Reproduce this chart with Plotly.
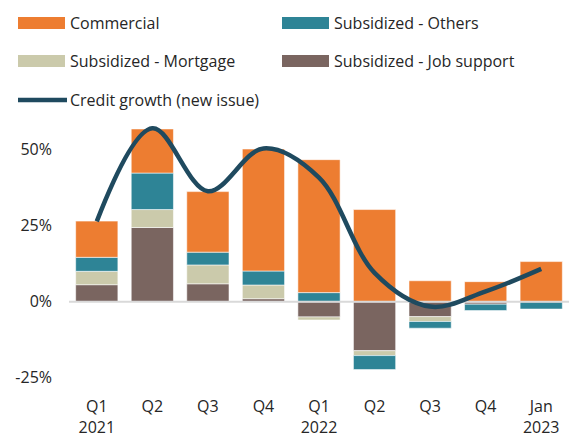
import plotly.graph_objects as go

categories = ["Q1<br>2021", "Q2", "Q3", "Q4", "Q1<br>2022", "Q2", "Q3", "Q4", "Jan<br>2023"]
job_support = [5.6, 24.4, 5.9, 1.0, -5.0, -16.1, -4.9, -0.8, 0.0]
mortgage = [4.4, 5.9, 6.2, 4.5, -1.0, -1.6, -1.6, 0.0, 0.0]
others = [4.6, 12.0, 4.2, 4.6, 3.0, -4.6, -2.2, -2.1, -2.4]
commercial = [11.9, 14.5, 19.9, 40.1, 43.7, 30.3, 6.9, 6.6, 13.2]
credit_growth = [26.4, 57.0, 36.3, 50.4, 40.8, 9.5, -1.6, 3.4, 10.8]
y_tickvals = [-25, 0, 25, 50]
y_ticktext = ["-25%", "0%", "25%", "50%"]

series = [
    ("Subsidized - Job support", job_support, "#7A6560"),
    ("Subsidized - Mortgage", mortgage, "#CBCAAB"),
    ("Subsidized - Others", others, "#2E8496"),
    ("Commercial", commercial, "#ED7D31"),
]
line_color = "#1F4A5F"
font_family = "Open Sans, sans-serif"
text_color = "#262626"

x_idx = list(range(len(categories)))
fig = go.Figure()
for name, vals, col in series:
    fig.add_trace(go.Bar(
        x=x_idx, y=vals, name=name, marker_color=col,
        marker_line=dict(color="rgba(255,255,255,0.55)", width=1),
        showlegend=False,
    ))
# zero reference line (above bars, below the curve)
fig.add_trace(go.Scatter(
    x=[-0.5, len(categories) - 0.5], y=[0, 0], mode="lines",
    line=dict(color="#D9D9D9", width=2), hoverinfo="skip", showlegend=False,
))
fig.add_trace(go.Scatter(
    x=x_idx, y=credit_growth, mode="lines", name="Credit growth (new issue)",
    line=dict(color=line_color, width=4.5, shape="spline", smoothing=1.0),
    showlegend=False,
))

L, R, T, B = 69, 5, 104, 44
W, H = 574, 437
pw, ph = W - L - R, H - T - B


def px(x):
    return (x - L) / pw


def py(y):
    return (H - B - y) / ph


shapes = []
annotations = []
legend_items = [
    ("Commercial", "#ED7D31", 18, 23, "rect"),
    ("Subsidized - Others", "#2E8496", 282, 23, "rect"),
    ("Subsidized - Mortgage", "#CBCAAB", 18, 61, "rect"),
    ("Subsidized - Job support", "#7A6560", 282, 61, "rect"),
    ("Credit growth (new issue)", line_color, 18, 100, "line"),
]
for label, col, x0, yc, kind in legend_items:
    if kind == "rect":
        shapes.append(dict(type="rect", xref="paper", yref="paper",
                           x0=px(x0), x1=px(x0 + 47), y0=py(yc - 6), y1=py(yc + 6),
                           fillcolor=col, line=dict(width=0), layer="above"))
    else:
        shapes.append(dict(type="line", xref="paper", yref="paper",
                           x0=px(x0), x1=px(x0 + 49), y0=py(yc), y1=py(yc),
                           line=dict(color=col, width=4.5), layer="above"))
    annotations.append(dict(text=label, xref="paper", yref="paper",
                            x=px(x0 + 50), y=py(yc), xanchor="left", yanchor="middle",
                            showarrow=False, font=dict(size=16, color=text_color, family=font_family)))

fig.update_layout(
    width=W, height=H,
    margin=dict(l=L, r=R, t=T, b=B, autoexpand=False),
    barmode="relative", bargap=0.24,
    plot_bgcolor="white", paper_bgcolor="white",
    font=dict(family=font_family, size=16, color=text_color),
    shapes=shapes, annotations=annotations,
    xaxis=dict(range=[-0.5, len(categories) - 0.5], tickvals=x_idx, ticktext=categories,
               showgrid=False, zeroline=False, showline=False, ticks="",
               ticklabelstandoff=2, fixedrange=True, automargin=False),
    yaxis=dict(range=[-30, 65], tickvals=y_tickvals, ticktext=y_ticktext,
               showgrid=False, zeroline=False, showline=False, ticks="",
               ticklabelstandoff=16, fixedrange=True, automargin=False),
)
fig.write_html("out.html", config={"displayModeBar": False},
               post_script="document.body.style.margin='0';document.body.style.overflow='hidden';")
